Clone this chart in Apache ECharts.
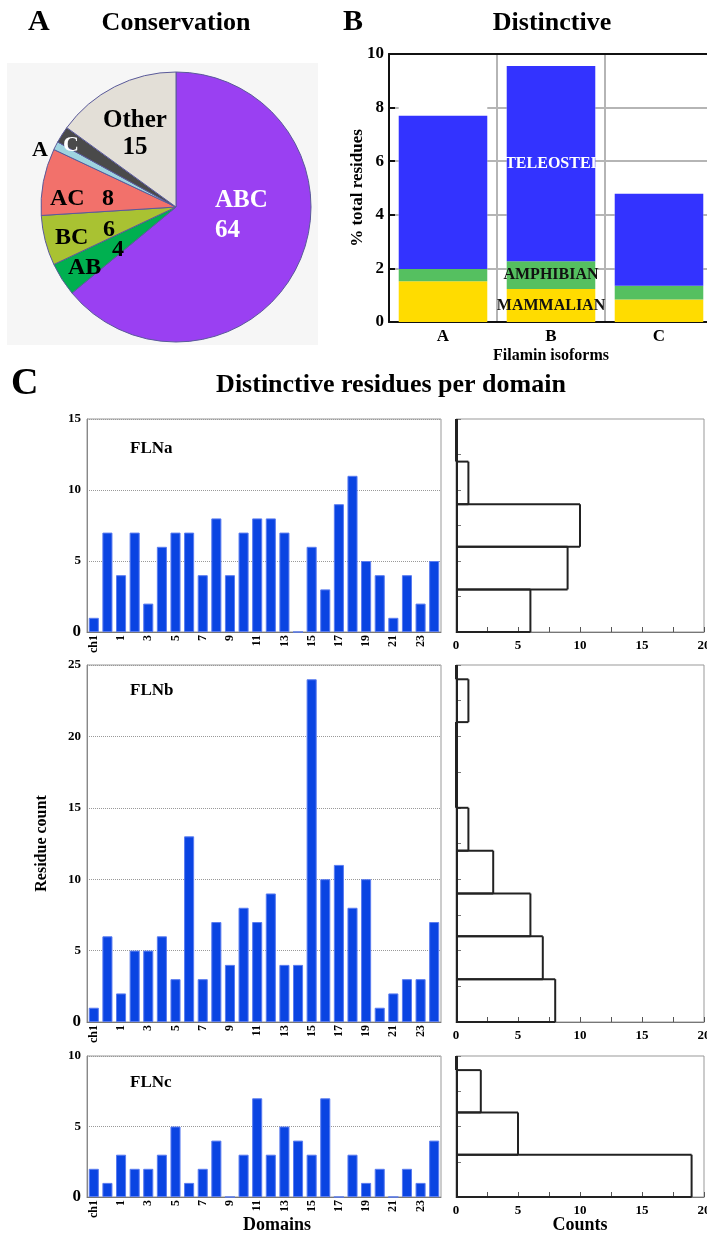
<!DOCTYPE html>
<html lang="en">
<head>
<meta charset="UTF-8">
<title>Filamin conservation and distinctive residues</title>
<style>
    body { margin: 0; background: #fff; }
    #chart { width: 707px; height: 1235px; }
</style>
<script src="https://cdn.jsdelivr.net/npm/echarts@6/dist/echarts.min.js"></script>
</head>
<body>
<div id="chart"></div>
<script>
    // ---- panel A: conservation pie ----
    const pieNames = ['ABC', 'AB', 'BC', 'AC', 'A', 'C', 'Other'];
    const pieValues = [64, 4, 6, 8, 1, 2, 15];
    const pieColors = ['#9a40f2', '#00b050', '#a9c232', '#f2716b', '#9fd4e0', '#4a4a4a', '#e3dfd7'];

    // ---- panel B: distinctive residues (% of total) ----
    const isoforms = ['A', 'B', 'C'];
    const mammalian = [1.52, 1.23, 0.84];
    const amphibian = [0.46, 1.04, 0.51];
    const teleostei = [5.72, 7.28, 3.44];

    // ---- panel C: residues per domain ----
    const domains = ['ch1', 'ch2', '1', '2', '3', '4', '5', '6', '7', '8', '9', '10', '11', '12',
        '13', '14', '15', '16', '17', '18', '19', '20', '21', '22', '23', '24'];
    const flna = [1, 7, 4, 7, 2, 6, 7, 7, 4, 8, 4, 7, 8, 8, 7, 0, 6, 3, 9, 11, 5, 4, 1, 4, 2, 5];
    const flnb = [1, 6, 2, 5, 5, 6, 3, 13, 3, 7, 4, 8, 7, 9, 4, 4, 24, 10, 11, 8, 10, 1, 2, 3, 3, 7];
    const flnc = [2, 1, 3, 2, 2, 3, 5, 1, 2, 4, 0, 3, 7, 3, 5, 4, 3, 7, 0, 3, 1, 2, 0, 2, 1, 4];

    // histograms of the counts above (bin edges + counts)
    const binEdgesA = [0, 3, 6, 9, 12, 15];
    const histA = [6, 9, 10, 1, 0];
    const binEdgesB = [0, 3, 6, 9, 12, 15, 18, 21, 24, 25];
    const histB = [8, 7, 6, 3, 1, 0, 0, 1, 0];
    const binEdgesC = [0, 3, 6, 9, 10];
    const histC = [19, 5, 2, 0];

    const SERIF = '"Liberation Serif", "DejaVu Serif", serif';
    const chart = echarts.init(document.getElementById('chart'));

    function txt(text, x, y, size, align, color) {
        return {
            type: 'text', x: x, y: y, z: 10,
            style: {
                text: text, fill: color || '#000',
                font: 'bold ' + size + 'px ' + SERIF,
                align: align || 'left', verticalAlign: 'middle',
                textAlign: align || 'left', textVerticalAlign: 'middle'
            }
        };
    }

    // pie labels are placed by hand like in the original figure
    const pieLabels = [
        ['ABC', 215, 201, 25, 'left', '#fff'], ['64', 215, 231, 25, 'left', '#fff'],
        ['Other', 135, 121, 25, 'center'], ['15', 135, 148, 25, 'center'],
        ['AC', 50, 199, 24, 'left'], ['8', 102, 199, 24, 'left'],
        ['BC', 55, 238, 24, 'left'], ['6', 103, 230, 24, 'left'],
        ['4', 112, 250, 24, 'left'], ['AB', 68, 268, 24, 'left'],
        ['A', 32, 150, 22, 'left'], ['C', 63, 145, 22, 'left', '#fff']
    ];

    const graphics = [
        { type: 'rect', z: 0, shape: { x: 7, y: 63, width: 311, height: 282 }, style: { fill: '#f6f6f6' } },
        txt('A', 28, 22, 30), txt('Conservation', 176, 23, 26, 'center'),
        txt('B', 343, 22, 30), txt('Distinctive', 552, 23, 26, 'center'),
        txt('C', 11, 384, 38), txt('Distinctive residues per domain', 391, 385, 26, 'center'),
        txt('FLNa', 130, 449, 17), txt('FLNb', 130, 691, 17), txt('FLNc', 130, 1083, 17)
    ];
    pieLabels.forEach(l => graphics.push(txt(l[0], l[1], l[2], l[3], l[4], l[5])));

    const boldLabel = (size) => ({ fontFamily: SERIF, fontWeight: 'bold', fontSize: size, color: '#000' });

    const grids = [
        { left: 389, top: 54, width: 324, height: 268 }
    ];
    const xAxes = [
        {
            type: 'category', gridIndex: 0, data: isoforms,
            axisLine: { lineStyle: { color: '#111', width: 2 } },
            axisTick: { inside: true, length: 7, lineStyle: { color: '#111', width: 2 } },
            splitLine: { show: true, lineStyle: { color: '#b5b5b5', width: 2 } },
            axisLabel: Object.assign(boldLabel(17), { margin: 6 }),
            name: 'Filamin isoforms', nameLocation: 'middle', nameGap: 26, nameMoveOverlap: false,
            nameTextStyle: boldLabel(16)
        },
        {
            type: 'category', gridIndex: 0, data: isoforms, position: 'top',
            axisLine: { lineStyle: { color: '#111', width: 2 } },
            axisTick: { inside: true, length: 6, lineStyle: { color: '#111', width: 2 } },
            axisLabel: { show: false }
        }
    ];
    const yAxes = [
        {
            type: 'value', gridIndex: 0, min: 0, max: 10, interval: 2,
            axisLine: { show: true, lineStyle: { color: '#111', width: 2 } },
            axisTick: { show: true, inside: true, length: 6, lineStyle: { color: '#111', width: 2 } },
            splitLine: { lineStyle: { color: '#b5b5b5', width: 2 } },
            axisLabel: Object.assign(boldLabel(17), { margin: 5 }),
            name: '% total residues', nameLocation: 'middle', nameGap: 23, nameMoveOverlap: false,
            nameTextStyle: boldLabel(17)
        }
    ];

    const labelItem = (arr, name, color) => arr.map((v, i) => i === 1
        ? { value: v, label: { show: true, formatter: name, color: color } }
        : v);

    const series = [
        {
            type: 'pie', center: [176, 207], radius: 135, startAngle: 90, clockwise: true,
            silent: true, label: { show: false }, labelLine: { show: false },
            itemStyle: { borderColor: '#5a5a9a', borderWidth: 1 },
            data: pieNames.map((n, i) => ({ name: n, value: pieValues[i], itemStyle: { color: pieColors[i] } }))
        },
        {
            // white band above each stacked bar (breaks the grid lines like the original)
            type: 'custom', xAxisIndex: 0, yAxisIndex: 0, z: 1, silent: true, clip: false,
            data: isoforms.map((c, i) => [i, mammalian[i] + amphibian[i] + teleostei[i]]),
            encode: { x: 0, y: 1 },
            renderItem: (params, api) => {
                const top = api.coord([api.value(0), api.value(1)]);
                const base = api.coord([api.value(0), 0]);
                const w = api.size([1, 0])[0] * 0.82;
                return {
                    type: 'rect',
                    shape: { x: top[0] - w / 2, y: top[1] - 10, width: w, height: base[1] - top[1] + 9 },
                    style: { fill: '#fff' }
                };
            }
        }
    ];
    const stackDefs = [
        ['MAMMALIAN', mammalian, '#ffdc00', '#111'],
        ['AMPHIBIAN', amphibian, '#55c060', '#111'],
        ['TELEOSTEI', teleostei, '#3333ff', '#fff']
    ];
    stackDefs.forEach(d => series.push({
        type: 'bar', name: d[0], stack: 'iso', xAxisIndex: 0, yAxisIndex: 0, z: 2,
        barWidth: '82%',
        itemStyle: { color: d[2] },
        label: Object.assign(boldLabel(16), { show: false, position: 'inside' }),
        data: labelItem(d[1], d[0], d[3])
    }));

    // ---- panel C bar charts + histograms ----
    const panels = [
        { data: flna, max: 15, top: 419, height: 213, edges: binEdgesA, hist: histA },
        { data: flnb, max: 25, top: 665, height: 357, edges: binEdgesB, hist: histB },
        { data: flnc, max: 10, top: 1056, height: 141, edges: binEdgesC, hist: histC }
    ];
    const frame = { show: true, borderColor: '#999', borderWidth: 1, backgroundColor: 'transparent' };

    panels.forEach((p, k) => {
        const last = k === panels.length - 1;
        // bar chart
        const g = grids.length;
        grids.push(Object.assign({ left: 87, top: p.top, width: 354, height: p.height }, frame));
        xAxes.push({
            type: 'category', gridIndex: g, data: domains,
            axisLine: { lineStyle: { color: '#777' } }, axisTick: { show: false },
            axisLabel: Object.assign(boldLabel(12), { interval: 1, rotate: 90, margin: 3 }),
            name: last ? 'Domains' : '', nameLocation: 'middle', nameGap: 19, nameMoveOverlap: false,
            nameTextStyle: Object.assign(boldLabel(18), { padding: [0, 0, 0, 26] })
        });
        const xi = xAxes.length - 1;
        xAxes.push({
            type: 'category', gridIndex: g, data: domains, position: 'top',
            axisLine: { show: false },
            axisTick: { inside: true, length: 4, interval: 0, lineStyle: { color: '#888' } },
            axisLabel: { show: false }
        });
        yAxes.push({
            type: 'value', gridIndex: g, min: 0, max: p.max, interval: 5,
            axisLine: { show: true, lineStyle: { color: '#888' } }, axisTick: { show: false },
            splitLine: { lineStyle: { color: '#999', type: 'dotted' } },
            axisLabel: Object.assign(boldLabel(13), {
                margin: 6,
                formatter: v => v === 0 ? '{z|0}' : String(v),
                rich: { z: boldLabel(17) }
            }),
            name: k === 1 ? 'Residue count' : '', nameLocation: 'middle', nameGap: 37, nameMoveOverlap: false,
            nameTextStyle: boldLabel(16)
        });
        const yi = yAxes.length - 1;
        series.push({
            type: 'bar', xAxisIndex: xi, yAxisIndex: yi, data: p.data,
            barCategoryGap: '26%',
            itemStyle: { color: '#0a44e2', borderColor: '#5a7cf0', borderWidth: 1 }
        });

        // histogram, horizontal, same vertical scale as the bar chart
        const h = grids.length;
        grids.push(Object.assign({ left: 456, top: p.top, width: 248, height: p.height }, frame));
        xAxes.push({
            type: 'value', gridIndex: h, min: 0, max: 20, interval: 2.5,
            axisLine: { lineStyle: { color: '#777' } },
            axisTick: { inside: true, length: 5, lineStyle: { color: '#555' } },
            splitLine: { show: false },
            axisLabel: Object.assign(boldLabel(13), {
                margin: 7, formatter: v => v % 5 === 0 ? String(v) : ''
            }),
            name: last ? 'Counts' : '', nameLocation: 'middle', nameGap: 19, nameMoveOverlap: false,
            nameTextStyle: boldLabel(18)
        });
        const hx = xAxes.length - 1;
        yAxes.push({
            type: 'value', gridIndex: h, min: 0, max: p.max, interval: 2.5,
            axisLine: { show: false },
            axisTick: { show: true, inside: true, length: 5, lineStyle: { color: '#777' } },
            splitLine: { show: false }, axisLabel: { show: false }
        });
        const hy = yAxes.length - 1;
        series.push({
            type: 'custom', xAxisIndex: hx, yAxisIndex: hy, silent: true, z: 5, clip: false,
            data: p.hist.map((c, i) => [p.edges[i], p.edges[i + 1], c]),
            encode: { x: 2, y: [0, 1] },
            renderItem: (params, api) => {
                const lo = api.value(0), hi = api.value(1), c = api.value(2);
                const a = api.coord([0, lo]), b = api.coord([c, hi]);
                // outline of one bin; a zero-count bin collapses to a line on the axis
                return {
                    type: 'group',
                    children: [
                        { type: 'line', shape: { x1: a[0] + 1, y1: a[1], x2: a[0] + 1, y2: b[1] }, style: { stroke: '#222', lineWidth: 2 } },
                        { type: 'line', shape: { x1: a[0], y1: a[1], x2: b[0], y2: a[1] }, style: { stroke: '#222', lineWidth: 2 } },
                        { type: 'line', shape: { x1: a[0], y1: b[1], x2: b[0], y2: b[1] }, style: { stroke: '#222', lineWidth: 2 } },
                        { type: 'line', shape: { x1: b[0], y1: a[1], x2: b[0], y2: b[1] }, style: { stroke: '#222', lineWidth: 2 } }
                    ]
                };
            }
        });
    });

    grids.forEach(g => { g.outerBoundsMode = 'none'; g.containLabel = false; });

    chart.setOption({
        animation: false,
        backgroundColor: '#fff',
        grid: grids,
        xAxis: xAxes,
        yAxis: yAxes,
        series: series,
        graphic: graphics
    });
</script>
</body>
</html>
